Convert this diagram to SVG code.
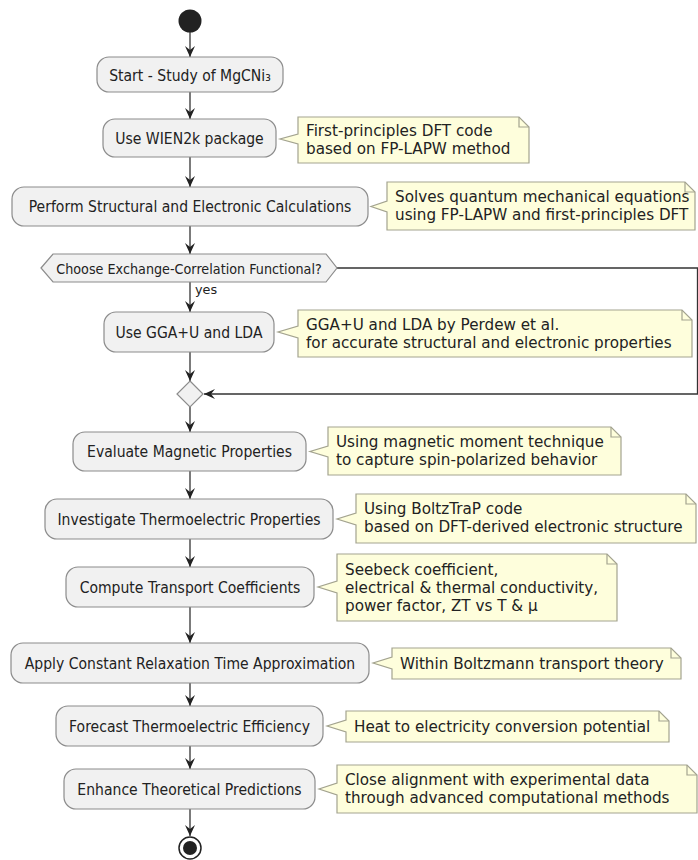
<svg xmlns="http://www.w3.org/2000/svg" width="698" height="860" viewBox="0 0 698 860">
<style>
.box{fill:#F1F1F1;stroke:#8c8c8c;stroke-width:1.2}
.note{fill:#FEFEDC;stroke:#a3a38f;stroke-width:1.2}
.fold{fill:none;stroke:#a3a38f;stroke-width:1.2}
.bt,.dt{transform-box:fill-box;transform-origin:center;transform:scaleY(1.12)}
.bt{font-family:"DejaVu Sans",sans-serif;font-size:14px;fill:#222;text-anchor:middle}
.nt{font-family:"DejaVu Sans",sans-serif;font-size:15.2px;fill:#222}
.dt{font-family:"DejaVu Sans",sans-serif;font-size:12.8px;fill:#222;text-anchor:middle}
.lt{font-family:"DejaVu Sans",sans-serif;font-size:12.8px;fill:#222}
.ln{fill:none;stroke:#333;stroke-width:1.3}
</style>
<defs>
<marker id="ah" viewBox="0 0 11 10" refX="11" refY="5" markerWidth="11" markerHeight="10" markerUnits="userSpaceOnUse" orient="auto">
<path d="M0,0 L11,5 L0,10 L4,5 Z" fill="#222"/>
</marker>
</defs>
<g id="connectors">
<line class="ln" x1="190" y1="32" x2="190" y2="57" marker-end="url(#ah)"/>
<line class="ln" x1="190" y1="92" x2="190" y2="119" marker-end="url(#ah)"/>
<line class="ln" x1="190" y1="157" x2="190" y2="187" marker-end="url(#ah)"/>
<line class="ln" x1="190" y1="226" x2="190" y2="254" marker-end="url(#ah)"/>
<line class="ln" x1="190" y1="282" x2="190" y2="312" marker-end="url(#ah)"/>
<line class="ln" x1="190" y1="352" x2="190" y2="381" marker-end="url(#ah)"/>
<polyline class="ln" points="337,268 697.5,268 697.5,394 204,394" marker-end="url(#ah)"/>
<line class="ln" x1="190" y1="407" x2="190" y2="432" marker-end="url(#ah)"/>
<line class="ln" x1="190" y1="471" x2="190" y2="499" marker-end="url(#ah)"/>
<line class="ln" x1="190" y1="539" x2="190" y2="567" marker-end="url(#ah)"/>
<line class="ln" x1="190" y1="607" x2="190" y2="643" marker-end="url(#ah)"/>
<line class="ln" x1="190" y1="683" x2="190" y2="706" marker-end="url(#ah)"/>
<line class="ln" x1="190" y1="746" x2="190" y2="769" marker-end="url(#ah)"/>
<line class="ln" x1="190" y1="809" x2="190" y2="836" marker-end="url(#ah)"/>
<text class="lt" x="195" y="294">yes</text>
</g>
<g id="start"><circle cx="190" cy="21" r="11.5" fill="#222"/></g>
<g id="n1"><rect class="box" x="97" y="57" width="186" height="35" rx="12"/><text class="bt" x="190" y="80">Start - Study of MgCNi₃</text></g>
<g id="n2"><rect class="box" x="103" y="119" width="173" height="38" rx="12"/><text class="bt" x="189.5" y="143">Use WIEN2k package</text></g>
<g id="note1"><path class="note" d="M298,117 L519,117 L529,127 L529,163 L298,163 L298,144 L280,139 L298,134 Z"/><path class="fold" d="M519,117 L519,127 L529,127"/><text class="nt" x="306" y="136">First-principles DFT code</text><text class="nt" x="306" y="154">based on FP-LAPW method</text></g>
<g id="n3"><rect class="box" x="12" y="187" width="356" height="39" rx="12"/><text class="bt" x="190" y="211">Perform Structural and Electronic Calculations</text></g>
<g id="note2"><path class="note" d="M387,182 L685,182 L695,192 L695,230 L387,230 L387,212 L371,206.5 L387,201 Z"/><path class="fold" d="M685,182 L685,192 L695,192"/><text class="nt" x="395" y="202">Solves quantum mechanical equations</text><text class="nt" x="395" y="220">using FP-LAPW and first-principles DFT</text></g>
<g id="decision"><polygon class="box" points="41,268 53,254 326,254 337,268 326,282 53,282"/><text class="dt" x="189" y="273">Choose Exchange-Correlation Functional?</text></g>
<g id="n4"><rect class="box" x="104" y="312" width="170" height="40" rx="12"/><text class="bt" x="189" y="337">Use GGA+U and LDA</text></g>
<g id="note3"><path class="note" d="M298,310 L682,310 L692,320 L692,357 L298,357 L298,338 L278,332 L298,326 Z"/><path class="fold" d="M682,310 L682,320 L692,320"/><text class="nt" x="306" y="330">GGA+U and LDA by Perdew et al.</text><text class="nt" x="306" y="348">for accurate structural and electronic properties</text></g>
<g id="merge"><polygon class="box" points="190,381 203,394 190,407 177,394"/></g>
<g id="n5"><rect class="box" x="73" y="432" width="233" height="39" rx="12"/><text class="bt" x="189.5" y="456">Evaluate Magnetic Properties</text></g>
<g id="note4"><path class="note" d="M328,427 L611,427 L621,437 L621,475 L328,475 L328,457 L310,451.5 L328,446 Z"/><path class="fold" d="M611,427 L611,437 L621,437"/><text class="nt" x="336" y="447">Using magnetic moment technique</text><text class="nt" x="336" y="465">to capture spin-polarized behavior</text></g>
<g id="n6"><rect class="box" x="45" y="499" width="288" height="40" rx="12"/><text class="bt" x="189" y="524">Investigate Thermoelectric Properties</text></g>
<g id="note5"><path class="note" d="M356,494 L686,494 L696,504 L696,543 L356,543 L356,525 L337,519 L356,513 Z"/><path class="fold" d="M686,494 L686,504 L696,504"/><text class="nt" x="364" y="514">Using BoltzTraP code</text><text class="nt" x="364" y="532">based on DFT-derived electronic structure</text></g>
<g id="n7"><rect class="box" x="66" y="567" width="248" height="40" rx="12"/><text class="bt" x="190" y="592">Compute Transport Coefficients</text></g>
<g id="note6"><path class="note" d="M337,554 L607,554 L617,564 L617,621 L337,621 L337,593 L318,587 L337,581 Z"/><path class="fold" d="M607,554 L607,564 L617,564"/><text class="nt" x="345" y="575">Seebeck coefficient,</text><text class="nt" x="345" y="593">electrical &amp; thermal conductivity,</text><text class="nt" x="345" y="611">power factor, ZT vs T &amp; μ</text></g>
<g id="n8"><rect class="box" x="11" y="643" width="358" height="40" rx="12"/><text class="bt" x="190" y="668">Apply Constant Relaxation Time Approximation</text></g>
<g id="note7"><path class="note" d="M392,648 L671,648 L681,658 L681,679 L392,679 L392,669 L373,663 L392,657 Z"/><path class="fold" d="M671,648 L671,658 L681,658"/><text class="nt" x="400" y="669">Within Boltzmann transport theory</text></g>
<g id="n9"><rect class="box" x="56" y="706" width="267" height="40" rx="12"/><text class="bt" x="189.5" y="731">Forecast Thermoelectric Efficiency</text></g>
<g id="note8"><path class="note" d="M346,711 L659,711 L669,721 L669,742 L346,742 L346,732 L327,726 L346,720 Z"/><path class="fold" d="M659,711 L659,721 L669,721"/><text class="nt" x="354" y="732">Heat to electricity conversion potential</text></g>
<g id="n10"><rect class="box" x="64" y="769" width="251" height="40" rx="12"/><text class="bt" x="189.5" y="794">Enhance Theoretical Predictions</text></g>
<g id="note9"><path class="note" d="M337,765 L687,765 L697,775 L697,813 L337,813 L337,795 L319,789 L337,783 Z"/><path class="fold" d="M687,765 L687,775 L697,775"/><text class="nt" x="345" y="785">Close alignment with experimental data</text><text class="nt" x="345" y="803">through advanced computational methods</text></g>
<g id="end"><circle cx="190" cy="848" r="11" fill="#fff" stroke="#222" stroke-width="1.5"/><circle cx="190" cy="848" r="7" fill="#222"/></g>
</svg>
